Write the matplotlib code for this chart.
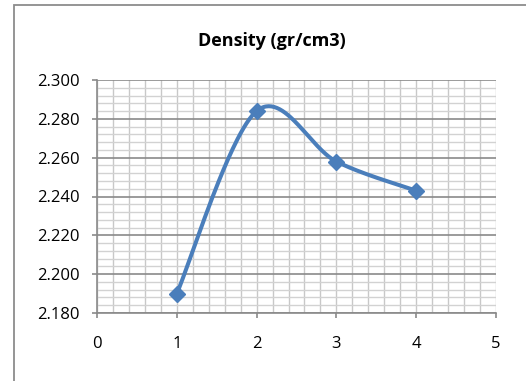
import matplotlib
matplotlib.use("Agg")
import matplotlib.pyplot as plt
import numpy as np
from matplotlib.patches import Rectangle
from matplotlib.ticker import MultipleLocator, FormatStrFormatter

# Density readings per sample
samples = [1, 2, 3, 4]
density = [2.190, 2.284, 2.258, 2.243]

LINE_BLUE = "#4a7ebb"


def smooth_curve(xs, ys, n=60):
    """Bezier smoothing through the points (spreadsheet-style smoothed line)."""
    pts = np.column_stack([xs, ys]).astype(float)
    ext = np.vstack([pts[0], pts, pts[-1]])
    out = []
    t = np.linspace(0, 1, n)[:, None]
    for i in range(len(pts) - 1):
        p0, p1 = ext[i + 1], ext[i + 2]
        c1 = p0 + (ext[i + 2] - ext[i]) / 6
        c2 = p1 - (ext[i + 3] - ext[i + 1]) / 6
        seg = ((1 - t) ** 3) * p0 + 3 * ((1 - t) ** 2) * t * c1 \
            + 3 * (1 - t) * t ** 2 * c2 + t ** 3 * p1
        out.append(seg if i == 0 else seg[1:])
    out = np.vstack(out)
    return out[:, 0], out[:, 1]


plt.rcParams["font.family"] = ["Open Sans", "DejaVu Sans"]

fig = plt.figure(figsize=(5.26, 3.81), dpi=100)
ax = fig.add_axes([97 / 526, 1 - 313 / 381, 399 / 526, 233 / 381])

# outer chart frame
fig.patches.append(Rectangle((14 / 526, -0.1), 1.2, 1 - 5 / 381 + 0.1,
                             transform=fig.transFigure, fill=False,
                             edgecolor="#8c8c8c", lw=1.3))

sx, sy = smooth_curve(samples, density)
ax.plot(sx, sy, color=LINE_BLUE, lw=2.9, solid_capstyle="round", zorder=4)
ax.plot(samples, density, linestyle="none", marker="D", markersize=8,
        color=LINE_BLUE, zorder=5)

ax.set_xlim(0, 5)
ax.set_ylim(2.18, 2.30)
ax.xaxis.set_major_locator(MultipleLocator(1))
ax.xaxis.set_minor_locator(MultipleLocator(0.2))
ax.yaxis.set_major_locator(MultipleLocator(0.02))
ax.yaxis.set_minor_locator(MultipleLocator(0.004))
ax.yaxis.set_major_formatter(FormatStrFormatter("%.3f"))

ax.grid(which="minor", axis="x", color="#c8c8c8", lw=1.0)
ax.grid(which="major", axis="x", color="#c8c8c8", lw=1.0)
ax.grid(which="minor", axis="y", color="#d2d2d2", lw=1.0)
ax.grid(which="major", axis="y", color="#8a8a8a", lw=1.2)
ax.set_axisbelow(True)

for side in ("top", "right"):
    ax.spines[side].set_visible(False)
for side in ("left", "bottom"):
    ax.spines[side].set_color("#8a8a8a")
    ax.spines[side].set_linewidth(1.2)

ax.tick_params(which="major", direction="out", length=3.6, width=1.2,
               color="#8a8a8a", labelsize=12, labelcolor="#000000")
ax.tick_params(which="minor", length=0)
ax.tick_params(axis="x", pad=13)
ax.tick_params(axis="y", pad=9)

fig.text(272 / 526, 1 - 41 / 381, "Density (gr/cm3)", ha="center",
         va="center", fontsize=13, fontweight="bold")

fig.savefig("out.png", dpi=100)
